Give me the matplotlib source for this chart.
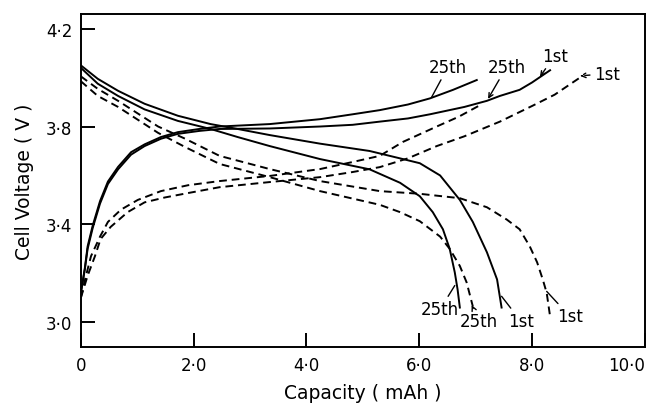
import matplotlib
matplotlib.use('Agg')
import matplotlib.pyplot as plt

# Eixos
x_ticks = [0, 2, 4, 6, 8, 10]
x_tick_labels = ['0', '2·0', '4·0', '6·0', '8·0', '10·0']
y_ticks = [3.0, 3.4, 3.8, 4.2]
y_tick_labels = ['3·0', '3·4', '3·8', '4·2']

# Curvas de carga (sobem)
carga_1_x = [0, 0.07, 0.12, 0.21, 0.34, 0.48, 0.66, 0.89, 1.13, 1.42, 1.72, 2.1, 2.46, 3.35, 4.24,
             4.82, 5.30, 5.8, 6.19, 6.8, 7.2, 7.43, 7.78, 8.0, 8.32]
carga_1_y = [3.12, 3.215, 3.30, 3.385, 3.485, 3.565, 3.625, 3.685, 3.72, 3.75, 3.77, 3.782, 3.79, 3.792, 3.80,
             3.807, 3.82, 3.833, 3.85, 3.88, 3.905, 3.925, 3.95, 3.98, 4.03]
carga_25_x = [0, 0.07, 0.12, 0.21, 0.34, 0.48, 0.66, 0.89, 1.13, 1.42, 1.72, 2.1, 2.46, 3.35, 4.24,
              4.82, 5.30, 5.8, 6.19, 6.6, 7.02]
carga_25_y = [3.12, 3.22, 3.31, 3.395, 3.495, 3.575, 3.635, 3.695, 3.727, 3.757, 3.777, 3.79, 3.80, 3.81, 3.83,
              3.85, 3.867, 3.89, 3.915, 3.95, 3.99]
carga_1_trac_x = [0, 0.12, 0.25, 0.35, 0.53, 0.83, 1.13, 1.49, 1.90, 2.46, 3.35, 4.24, 4.82, 5.30,
                  5.8, 6.31, 6.8, 7.43, 8.01, 8.4, 8.85]
carga_1_trac_y = [3.10, 3.19, 3.27, 3.34, 3.39, 3.45, 3.49, 3.51, 3.528, 3.552, 3.573, 3.593, 3.614, 3.634,
                  3.67, 3.72, 3.76, 3.82, 3.885, 3.93, 4.0]
carga_25_trac_x = [0, 0.08, 0.18, 0.34, 0.48, 0.71, 1.01, 1.42, 1.90, 2.46, 3.35, 4.24, 4.82, 5.30,
                   5.71, 6.31, 6.7, 7.1]
carga_25_trac_y = [3.10, 3.18, 3.27, 3.35, 3.41, 3.46, 3.50, 3.536, 3.56, 3.577, 3.598, 3.626, 3.655, 3.68,
                   3.737, 3.80, 3.84, 3.89]

# Curvas de descarga (descem)
desc_1_x = [0, 0.30, 0.66, 1.13, 1.72, 2.30, 2.78, 3.35, 4.24, 5.12, 5.71, 6.01, 6.37, 6.72, 6.95,
            7.2, 7.38, 7.46]
desc_1_y = [4.05, 3.995, 3.946, 3.893, 3.844, 3.81, 3.79, 3.765, 3.73, 3.70, 3.667, 3.65, 3.60, 3.50, 3.41,
            3.286, 3.175, 3.06]
desc_25_x = [0, 0.30, 0.66, 1.13, 1.72, 2.30, 2.78, 3.35, 4.24, 5.12, 5.66, 6.01, 6.24, 6.42, 6.54,
             6.63, 6.68, 6.72]
desc_25_y = [4.04, 3.975, 3.925, 3.87, 3.823, 3.79, 3.757, 3.72, 3.667, 3.625, 3.57, 3.515, 3.45, 3.38, 3.30,
             3.204, 3.134, 3.06]
desc_1_trac_x = [0, 0.30, 0.66, 1.37, 1.85, 2.46, 3.35, 4.24, 5.30, 6.01, 6.72, 7.2, 7.55, 7.78, 7.96,
                 8.09, 8.19, 8.26, 8.32]
desc_1_trac_y = [4.005, 3.954, 3.905, 3.80, 3.75, 3.68, 3.626, 3.577, 3.536, 3.525, 3.507, 3.47, 3.42, 3.38, 3.31,
                 3.245, 3.175, 3.12, 3.024]
desc_25_trac_x = [0, 0.30, 0.66, 1.37, 1.85, 2.46, 3.35, 4.24, 5.30, 5.66, 6.01, 6.37, 6.54, 6.72, 6.84,
                  6.95]
desc_25_trac_y = [3.985, 3.925, 3.88, 3.774, 3.716, 3.647, 3.593, 3.536, 3.48, 3.45, 3.413, 3.35, 3.30, 3.23, 3.163,
                  3.065]

# Rotulos: (texto, posicao do texto, ponto na curva, estilo da seta, tracejado)
rotulos = [
    ('25th', (6.51, 4.044), (6.22, 3.92), '-', False),
    ('25th', (7.55, 4.044), (7.22, 3.913), '->', False),
    ('1st', (8.40, 4.089), (8.14, 4.003), '->', False),
    ('1st', (9.33, 4.016), (8.85, 4.007), '->', True),
    ('25th', (6.37, 3.053), (6.63, 3.15), '-', False),
    ('25th', (7.06, 3.003), (6.93, 3.07), '->', False),
    ('1st', (7.80, 3.005), (7.46, 3.106), '-', False),
    ('1st', (8.67, 3.024), (8.26, 3.126), '-', False),
]

plt.rcParams['font.family'] = ['DejaVu Sans']

fig = plt.figure(figsize=(6.52, 4.06), dpi=100)
ax = fig.add_axes([0.124, 0.1436, 0.865, 0.8195])

lw = 1.4
traco = (4, 2.5)
ax.plot(carga_1_x, carga_1_y, color='black', lw=lw)
ax.plot(carga_25_x, carga_25_y, color='black', lw=lw)
ax.plot(desc_1_x, desc_1_y, color='black', lw=lw)
ax.plot(desc_25_x, desc_25_y, color='black', lw=lw)
ax.plot(carga_1_trac_x, carga_1_trac_y, color='black', lw=lw, dashes=traco)
ax.plot(carga_25_trac_x, carga_25_trac_y, color='black', lw=lw, dashes=traco)
ax.plot(desc_1_trac_x, desc_1_trac_y, color='black', lw=lw, dashes=traco)
ax.plot(desc_25_trac_x, desc_25_trac_y, color='black', lw=lw, dashes=traco)

for texto, pos, ponto, seta, trac in rotulos:
    ax.annotate(texto, xy=ponto, xytext=pos, ha='center', va='center', fontsize=12,
                arrowprops=dict(arrowstyle=seta, color='black', lw=1.0,
                                linestyle='--' if trac else '-',
                                shrinkA=1, shrinkB=0, mutation_scale=8))

ax.set_xlim(0, 10)
ax.set_ylim(2.9, 4.26)
ax.set_xticks(x_ticks, x_tick_labels)
ax.set_yticks(y_ticks, y_tick_labels)
ax.tick_params(direction='in', length=10, width=1.4, labelsize=12, pad=7)
ax.tick_params(axis='y', pad=6)
ax.get_xticklabels()[-1].set_ha('right')
for s in ax.spines.values():
    s.set_linewidth(1.4)

ax.set_xlabel('Capacity ( mAh )', fontsize=13.5, labelpad=6)
ax.set_ylabel('Cell Voltage ( V )', fontsize=13.5, labelpad=9)

fig.savefig('out.png', dpi=100)
